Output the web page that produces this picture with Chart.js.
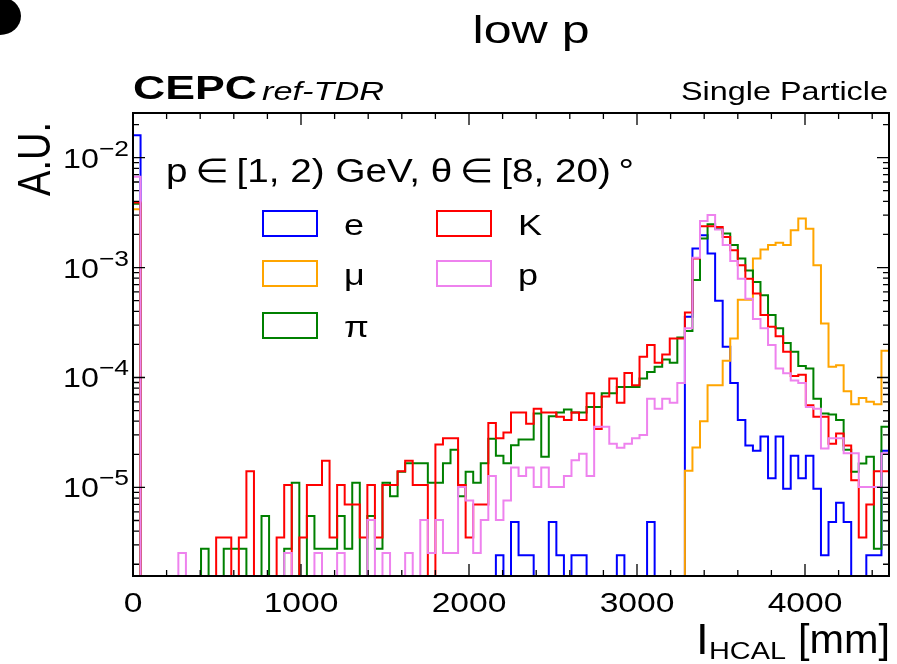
<!DOCTYPE html>
<html>
<head>
<meta charset="utf-8">
<script src="https://cdn.jsdelivr.net/npm/chart.js@4.4.1/dist/chart.umd.min.js"></script>
<style>
  html, body { margin: 0; padding: 0; background: #fff; }
  #wrap { width: 897px; height: 664px; }
</style>
</head>
<body>
<div id="wrap"><canvas id="chart" width="897" height="664"></canvas></div>
<script>
// histogram: 100 bins of 45 mm between 0 and 4500 mm
const binWidth = 45;
const xMin = 0, xMax = 4500;

const seriesNames = ['e', 'μ', 'π', 'K', 'p'];
const seriesColors = ['#0000ff', '#ffa500', '#008000', '#ff0000', '#ee82ee'];

const electron = [
  1.6e-2, 0, 0, 0, 0, 0, 0, 0, 0, 0,
  0, 0, 0, 0, 0, 0, 0, 0, 0, 0,
  0, 0, 0, 0, 0, 0, 0, 0, 0, 0,
  0, 0, 0, 0, 0, 0, 0, 0, 0, 0,
  0, 0, 0, 0, 0, 0, 0, 0, 2.42e-6, 0,
  4.84e-6, 2.42e-6, 2.42e-6, 0, 0, 4.84e-6, 2.42e-6, 0, 2.42e-6, 2.42e-6,
  0, 0, 0, 0, 2.42e-6, 0, 0, 0, 4.84e-6, 0,
  0, 0, 0, 3.56e-4, 1.49e-3, 1.97e-3, 1.34e-3, 5.0e-4, 1.9e-4, 8.9e-5,
  4.1e-5, 2.4e-5, 2.15e-5, 2.9e-5, 1.21e-5, 2.9e-5, 9.7e-6, 1.94e-5, 1.21e-5, 1.94e-5,
  9.7e-6, 2.42e-6, 4.84e-6, 7.26e-6, 4.84e-6, 0, 0, 2.42e-6, 2.42e-6, 2.15e-5
];

const muon = [
  3.4e-3, 0, 0, 0, 0, 0, 0, 0, 0, 0,
  0, 0, 0, 0, 0, 0, 0, 0, 0, 0,
  0, 0, 0, 0, 0, 0, 0, 0, 0, 0,
  0, 0, 0, 0, 0, 0, 0, 0, 0, 0,
  0, 0, 0, 0, 0, 0, 0, 0, 0, 0,
  0, 0, 0, 0, 0, 0, 0, 0, 0, 0,
  0, 0, 0, 0, 0, 0, 0, 0, 0, 0,
  0, 0, 0, 1.42e-5, 2.31e-5, 4.0e-5, 8.5e-5, 8.5e-5, 1.42e-4, 2.26e-4,
  5.1e-4, 5.1e-4, 1.21e-3, 1.46e-3, 1.6e-3, 1.68e-3, 1.6e-3, 2.18e-3, 2.79e-3, 2.26e-3,
  1.05e-3, 3.1e-4, 1.25e-4, 1.29e-4, 7.5e-5, 5.7e-5, 6.5e-5, 6.0e-5, 5.7e-5, 1.75e-4
];

const pion = [
  3.8e-3, 0, 0, 0, 0, 0, 0, 0, 0, 2.77e-6,
  0, 0, 2.77e-6, 2.77e-6, 2.77e-6, 0, 0, 5.5e-6, 0, 0,
  2.77e-6, 1.1e-5, 0, 5.5e-6, 2.77e-6, 2.77e-6, 2.77e-6, 5.5e-6, 2.77e-6, 1.1e-5,
  0, 5.5e-6, 2.77e-6, 1.1e-5, 8.3e-6, 1.39e-5, 1.66e-5, 1.66e-5, 1.66e-5, 1.1e-5,
  1.1e-5, 1.66e-5, 2.2e-5, 8.3e-6, 1.39e-5, 1.1e-5, 1.66e-5, 2.77e-5, 1.94e-5, 1.66e-5,
  2.42e-5, 2.73e-5, 2.73e-5, 4.7e-5, 1.9e-5, 4.45e-5, 4.8e-5, 5.1e-5, 4.8e-5, 4.8e-5,
  5.4e-5, 5.4e-5, 7.2e-5, 7.2e-5, 8.2e-5, 8.2e-5, 8.2e-5, 9.8e-5, 1.12e-4, 1.25e-4,
  1.46e-4, 1.36e-4, 2.31e-4, 2.65e-4, 7.7e-4, 1.84e-3, 2.48e-3, 2.26e-3, 2.04e-3, 1.6e-3,
  1.21e-3, 9.4e-4, 7.4e-4, 5.6e-4, 3.7e-4, 2.8e-4, 2.06e-4, 1.71e-4, 1.27e-4, 1.21e-4,
  6.4e-5, 4.7e-5, 4.6e-5, 4.1e-5, 2.2e-5, 1.39e-5, 1.65e-5, 1.9e-5, 2.77e-6, 3.56e-5
];

const kaon = [
  3.9e-3, 0, 0, 0, 0, 0, 0, 0, 0, 0,
  0, 3.5e-6, 3.5e-6, 0, 3.5e-6, 1.4e-5, 0, 0, 0, 3.5e-6,
  1.05e-5, 0, 3.5e-6, 1.05e-5, 1.05e-5, 1.75e-5, 3.5e-6, 1.05e-5, 7.0e-6, 7.0e-6,
  3.5e-6, 1.05e-5, 3.5e-6, 1.05e-5, 1.05e-5, 1.4e-5, 1.75e-5, 1.05e-5, 1.05e-5, 0,
  2.45e-5, 2.8e-5, 2.8e-5, 1.05e-5, 3.5e-6, 7.0e-6, 7.0e-6, 3.85e-5, 2.8e-5, 3.15e-5,
  4.8e-5, 4.8e-5, 3.8e-5, 5.2e-5, 4.8e-5, 4.8e-5, 4.4e-5, 4.1e-5, 4.8e-5, 4.1e-5,
  7.2e-5, 3.4e-5, 6.7e-5, 9.8e-5, 5.9e-5, 1.1e-4, 8.5e-5, 1.54e-4, 1.97e-4, 1.36e-4,
  1.62e-4, 2.26e-4, 2.26e-4, 3.9e-4, 1.21e-3, 2.37e-3, 2.37e-3, 2.34e-3, 1.9e-3, 1.44e-3,
  1.05e-3, 7.9e-4, 5.8e-4, 3.7e-4, 2.9e-4, 2.37e-4, 1.71e-4, 1.03e-4, 1.06e-4, 5.6e-5,
  4.4e-5, 4.4e-5, 2.5e-5, 3.1e-5, 2.4e-5, 1.16e-5, 3.5e-6, 7.0e-6, 1.4e-5, 1.4e-5
];

const proton = [
  6.7e-3, 0, 0, 0, 0, 0, 2.53e-6, 0, 0, 0,
  0, 0, 0, 0, 0, 0, 0, 0, 0, 0,
  2.53e-6, 0, 0, 0, 2.53e-6, 0, 0, 2.53e-6, 0, 0,
  0, 5.06e-6, 0, 2.53e-6, 0, 0, 2.53e-6, 0, 5.06e-6, 2.53e-6,
  5.06e-6, 2.53e-6, 2.53e-6, 1.01e-5, 7.6e-6, 2.53e-6, 5.06e-6, 1.27e-5, 5.06e-6, 7.6e-6,
  1.52e-5, 1.27e-5, 1.52e-5, 1.01e-5, 1.52e-5, 1.01e-5, 1.01e-5, 1.27e-5, 1.77e-5, 2.02e-5,
  1.27e-5, 3.56e-5, 3.56e-5, 2.5e-5, 2.3e-5, 2.5e-5, 2.8e-5, 3.0e-5, 6.4e-5, 5.2e-5,
  6.4e-5, 5.9e-5, 8.9e-5, 2.8e-4, 1.23e-3, 2.65e-3, 3.0e-3, 2.22e-3, 1.6e-3, 1.15e-3,
  7.9e-4, 5.2e-4, 3.4e-4, 2.8e-4, 1.97e-4, 1.21e-4, 1.09e-4, 9.4e-5, 8.9e-5, 5.4e-5,
  5.2e-5, 2.26e-5, 2.8e-5, 2.8e-5, 2.04e-5, 2.04e-5, 1.01e-5, 1.01e-5, 1.01e-5, 2.04e-5
];

const seriesValues = [electron, muon, pion, kaon, proton];

const xTickValues = [0, 1000, 2000, 3000, 4000];
const xTickLabels = ['0', '1000', '2000', '3000', '4000'];
const yTickValues = [1e-5, 1e-4, 1e-3, 1e-2];
const yTickExponents = ['\u22125', '\u22124', '\u22123', '\u22122'];

const yMin = 1.563e-6, yMax = 0.02547;
const EMPTY = 1e-9;   // empty bins fall below the log axis and get clipped

const FONT = '"Liberation Sans", "DejaVu Sans", Arial, sans-serif';

// step outline of a histogram, value of bin i held from its left edge
function steps(values) {
  const pts = [{ x: xMin, y: EMPTY }];
  values.forEach((v, i) => pts.push({ x: xMin + i * binWidth, y: v > 0 ? v : EMPTY }));
  const last = values[values.length - 1];
  pts.push({ x: xMin + values.length * binWidth, y: last > 0 ? last : EMPTY });
  return pts;
}

const datasets = seriesValues.map((vals, k) => ({
  label: seriesNames[k],
  data: steps(vals),
  borderColor: seriesColors[k],
  borderWidth: 2,
  stepped: true,
  pointRadius: 0,
  fill: false,
  tension: 0,
  borderJoinStyle: 'miter',
  order: seriesNames.length - k   // later species drawn on top
}));

// text squeezed/stretched to a width, like the wide lettering of the original
function text(ctx, str, x, y, o) {
  ctx.save();
  ctx.font = o.font;
  ctx.textAlign = 'left';
  ctx.textBaseline = 'alphabetic';
  const w = ctx.measureText(str).width;
  const sx = o.width ? o.width / w : (o.sx || 1.2);
  let x0 = x;
  if (o.align === 'right') x0 = x - w * sx;
  if (o.align === 'center') x0 = x - w * sx / 2;
  ctx.translate(x0, y);
  ctx.scale(sx, 1);
  ctx.fillStyle = o.color || '#000';
  ctx.fillText(str, 0, 0);
  ctx.restore();
  return w * sx;
}

const decorations = {
  id: 'decorations',
  afterDatasetsDraw(chart) {
    const ctx = chart.ctx;
    const { left, right, top, bottom } = chart.chartArea;
    const xs = chart.scales.x, ys = chart.scales.y;

    // frame
    ctx.save();
    ctx.strokeStyle = '#000';
    ctx.lineWidth = 2;
    ctx.strokeRect(left, top, right - left, bottom - top);

    // inward ticks on all four sides
    ctx.lineWidth = 1.3;
    ctx.beginPath();
    for (let v = xMin; v <= xMax; v += 200) {
      const px = xs.getPixelForValue(v);
      const len = xTickValues.includes(v) ? 12 : 6;
      ctx.moveTo(px, bottom); ctx.lineTo(px, bottom - len);
      ctx.moveTo(px, top); ctx.lineTo(px, top + len);
    }
    for (let e = -6; e <= -1; e++) {
      for (let m = 1; m <= 9; m++) {
        const v = m * Math.pow(10, e);
        if (v < yMin || v > yMax) continue;
        const py = ys.getPixelForValue(v);
        const len = m === 1 ? 12 : 6;
        ctx.moveTo(left, py); ctx.lineTo(left + len, py);
        ctx.moveTo(right, py); ctx.lineTo(right - len, py);
      }
    }
    ctx.stroke();
    ctx.restore();

    // tick labels
    xTickValues.forEach((v, i) => {
      text(ctx, xTickLabels[i], xs.getPixelForValue(v), 612, { font: '28px ' + FONT, align: 'center', sx: 1.2 });
    });
    yTickValues.forEach((v, i) => {
      const py = ys.getPixelForValue(v);
      const w = text(ctx, yTickExponents[i], left - 4, py - 2, { font: '22px ' + FONT, align: 'right', sx: 1.2 });
      text(ctx, '10', left - 4 - w, py + 10, { font: '28px ' + FONT, align: 'right', sx: 1.15 });
    });

    // axis titles
    text(ctx, 'l', 697, 654, { font: '40px ' + FONT, sx: 1.2 });
    text(ctx, 'HCAL', 709, 659, { font: '24px ' + FONT, width: 77 });
    text(ctx, '[mm]', 798, 653, { font: '40px ' + FONT, width: 92 });

    ctx.save();
    ctx.translate(50, 122);
    ctx.rotate(-Math.PI / 2);
    ctx.scale(1, 1.2);
    ctx.font = '38px ' + FONT;
    ctx.textAlign = 'right';
    ctx.fillStyle = '#000';
    ctx.fillText('A.U.', 0, 0);
    ctx.restore();

    // labels above the frame
    text(ctx, 'low p', 531, 43, { font: '38px ' + FONT, align: 'center', width: 117 });
    text(ctx, 'CEPC', 133, 99, { font: 'bold 33px ' + FONT, width: 124 });
    text(ctx, 'ref-TDR', 262, 100, { font: 'italic 26px ' + FONT, width: 122 });
    text(ctx, 'Single Particle', 888, 100, { font: '25px ' + FONT, align: 'right', width: 207 });

    // cut-off panel mark in the corner
    ctx.save();
    ctx.fillStyle = '#000';
    ctx.beginPath();
    ctx.ellipse(0, 16, 21, 19, 0, 0, Math.PI * 2);
    ctx.fill();
    ctx.restore();

    // legend header and entries
    text(ctx, 'p\u2009\u2208\u2009[1, 2) GeV, \u03b8\u2009\u2208\u2009[8, 20)\u2009\u00b0', 166, 182, { font: '33px ' + FONT, width: 468 });
    const cols = [263, 437], rows = [211, 261, 313];
    seriesNames.forEach((name, k) => {
      const cx = cols[Math.floor(k / 3)], cy = rows[k % 3];
      ctx.save();
      ctx.strokeStyle = seriesColors[k];
      ctx.lineWidth = 2;
      ctx.strokeRect(cx, cy, 54, 25);
      ctx.restore();
      text(ctx, name, cx + 81, cy + 24, { font: '30px ' + FONT, sx: 1.2 });
    });
  }
};

new Chart(document.getElementById('chart').getContext('2d'), {
  type: 'line',
  data: { datasets },
  options: {
    responsive: false,
    animation: false,
    devicePixelRatio: 1,
    layout: { padding: { top: 113, right: 8, left: 0, bottom: 0 } },
    plugins: { legend: { display: false }, tooltip: { enabled: false } },
    scales: {
      x: {
        type: 'linear', min: xMin, max: xMax,
        grid: { display: false }, border: { display: false },
        ticks: { display: false },
        afterFit: s => { s.height = 88; }
      },
      y: {
        type: 'logarithmic', min: yMin, max: yMax,
        grid: { display: false }, border: { display: false },
        ticks: { display: false },
        afterFit: s => { s.width = 133; }
      }
    }
  },
  plugins: [decorations]
});
</script>
</body>
</html>
